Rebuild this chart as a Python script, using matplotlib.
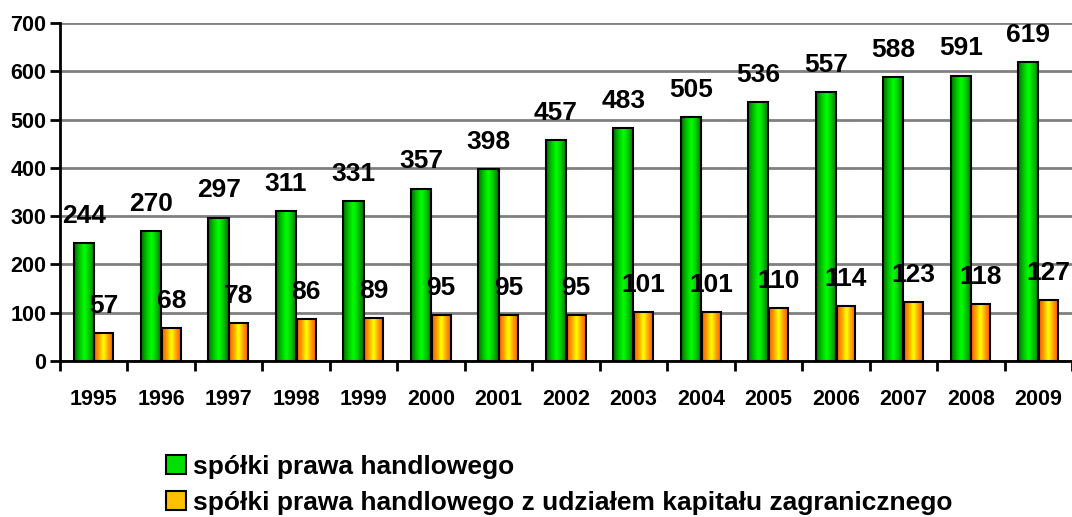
import numpy as np
import matplotlib
matplotlib.use('Agg')
import matplotlib.pyplot as plt
from matplotlib.colors import LinearSegmentedColormap
from matplotlib.patches import Patch

years = ['1995', '1996', '1997', '1998', '1999', '2000', '2001', '2002',
         '2003', '2004', '2005', '2006', '2007', '2008', '2009']
handlowe = [244, 270, 297, 311, 331, 357, 398, 457, 483, 505, 536, 557, 588, 591, 619]
zagraniczne = [57, 68, 78, 86, 89, 95, 95, 95, 101, 101, 110, 114, 123, 118, 127]
legend_labels = ['spółki prawa handlowego',
                 'spółki prawa handlowego z udziałem kapitału zagranicznego']

plt.rcParams['font.family'] = ['Liberation Sans', 'DejaVu Sans']
plt.rcParams['font.weight'] = 'bold'

green_cm = LinearSegmentedColormap.from_list('g', ['#00ff00', '#00c000', '#006c00'])
orange_cm = LinearSegmentedColormap.from_list('o', ['#ffff00', '#ffa000', '#ff5a00'])
grad = np.abs(np.linspace(-1, 1, 64))[None, :]

fig = plt.figure(figsize=(10.72, 5.17), dpi=100)
ax = fig.add_axes([0.056, 0.3017, 0.944, 0.654])

x = np.arange(len(years))
w_g, w_o = 0.30, 0.28

def draw_bars(xs, vals, width, cmap, offset):
    for xi, v in zip(xs, vals):
        x0 = xi + offset
        ax.imshow(grad, cmap=cmap, extent=[x0, x0 + width, 0, v],
                  aspect='auto', zorder=2, interpolation='bicubic')
    ax.bar(xs + offset, vals, width=width, align='edge', facecolor='none',
           edgecolor='black', linewidth=1.5, zorder=3)
    for xi, v in zip(xs, vals):
        ax.annotate(str(v), (xi + offset + width / 2, v), xytext=(0, 19.5),
                    textcoords='offset points', ha='center', va='center',
                    fontsize=19, fontweight='bold', zorder=4,
                    annotation_clip=False)

draw_bars(x, handlowe, w_g, green_cm, -w_g)
draw_bars(x, zagraniczne, w_o, orange_cm, 0.01)

ax.set_xlim(-0.5, len(years) - 0.5)
ax.set_ylim(0, 700)
ax.set_yticks(range(0, 701, 100))
ax.yaxis.grid(True, color='#808080', linewidth=2)
ax.set_axisbelow(True)
ax.set_xticks(x)
ax.set_xticklabels(years, fontsize=15.5, fontweight='bold')
ax.set_xticks(np.arange(-0.5, len(years), 1), minor=True)
ax.tick_params(axis='x', which='major', length=0, pad=20)
ax.tick_params(axis='x', which='minor', length=7, width=2, direction='out')
ax.tick_params(axis='y', length=7, width=2, labelsize=15.5, pad=3)
for lbl in ax.get_yticklabels():
    lbl.set_fontweight('bold')
for s in ['top', 'right']:
    ax.spines[s].set_visible(False)
for s in ['left', 'bottom']:
    ax.spines[s].set_linewidth(2)

handles = [Patch(facecolor='#00e000', edgecolor='black', linewidth=1.5),
           Patch(facecolor='#ffc000', edgecolor='black', linewidth=1.5)]
leg = fig.legend(handles, legend_labels, loc='upper left',
                 bbox_to_anchor=(0.155, 0.12), frameon=False,
                 prop={'size': 19, 'weight': 'bold'}, handlelength=0.75,
                 handleheight=0.75, handletextpad=0.25, labelspacing=0.45,
                 borderaxespad=0, borderpad=0)

fig.savefig('out.png', dpi=100)
